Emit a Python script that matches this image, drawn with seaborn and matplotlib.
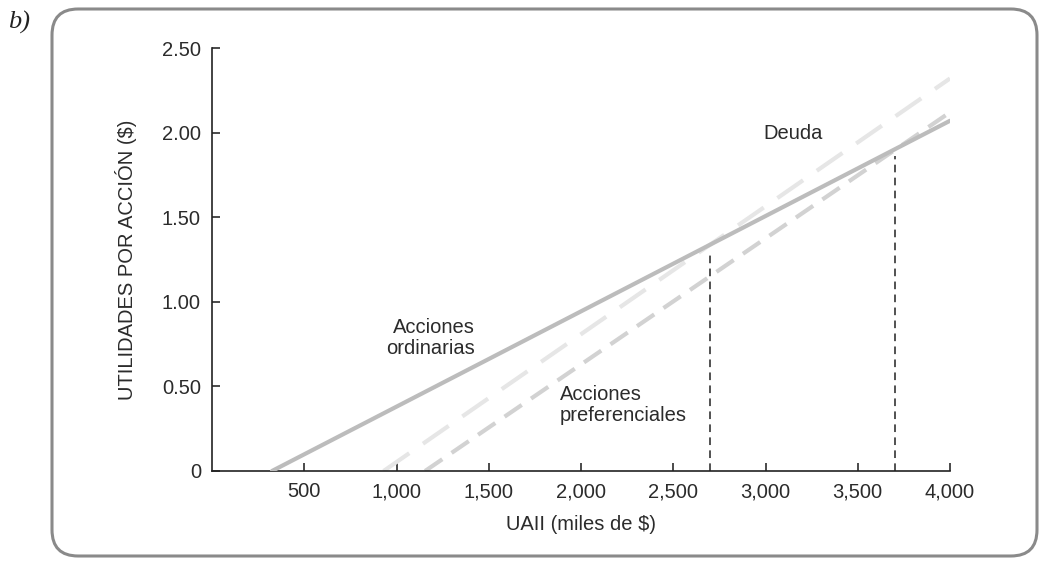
import pandas as pd
import seaborn as sns
import matplotlib.pyplot as plt
from matplotlib.patches import FancyBboxPatch
from matplotlib.ticker import FuncFormatter

# valores (UAII en miles de $, UPA en $)
ebit_ordinarias = [325, 4000]
eps_ordinarias = [0.0, 2.07]
ebit_deuda = [930, 4000]
eps_deuda = [0.0, 2.32]
ebit_pref = [1155, 4000]
eps_pref = [0.0, 2.12]

# puntos de indiferencia
indif_x = [2700, 3700]
indif_y = [1.30, 1.86]

x_ticks = [500, 1000, 1500, 2000, 2500, 3000, 3500, 4000]
y_ticks = [0, 0.5, 1.0, 1.5, 2.0, 2.5]

sns.set_style("ticks")
plt.rcParams.update({
    "font.family": ["Liberation Sans", "DejaVu Sans"],
    "font.size": 14.5,
    "text.color": "#2b2b2b",
    "axes.labelcolor": "#2b2b2b",
    "xtick.color": "#2b2b2b",
    "ytick.color": "#2b2b2b",
})

df_ord = pd.DataFrame({"UAII": ebit_ordinarias, "UPA": eps_ordinarias})
df_deu = pd.DataFrame({"UAII": ebit_deuda, "UPA": eps_deuda})
df_pre = pd.DataFrame({"UAII": ebit_pref, "UPA": eps_pref})

fig = plt.figure(figsize=(10.45, 5.61), dpi=100)
ax = fig.add_axes([212 / 1045, 1 - 471 / 561, (950 - 212) / 1045, (471 - 48) / 561])

# marco redondeado
box = FancyBboxPatch((52 / 1045, 5 / 561), (1037 - 52) / 1045, (554 - 7) / 561,
                     boxstyle="round,pad=0,rounding_size=0.025",
                     transform=fig.transFigure, fill=False,
                     edgecolor="#8a8a8a", linewidth=2.2,
                     mutation_aspect=1045 / 561)
fig.patches.append(box)
fig.text(8 / 1045, 1 - 22 / 561, "b)", fontsize=19, style="italic",
         family="Liberation Serif", va="center", ha="left", color="#222222")

sns.lineplot(data=df_deu, x="UAII", y="UPA", ax=ax, color="#e6e6e6",
             linewidth=3.0, zorder=2).lines[-1].set_dashes([7.5, 4])
sns.lineplot(data=df_pre, x="UAII", y="UPA", ax=ax, color="#d2d2d2",
             linewidth=3.0, zorder=2).lines[-1].set_dashes([5, 2.7])
sns.lineplot(data=df_ord, x="UAII", y="UPA", ax=ax, color="#bcbcbc",
             linewidth=3.0, zorder=3)

ax.vlines(indif_x, 0, indif_y, colors="#222222", linewidth=1.1,
          linestyles=(0, (5, 3.5)), zorder=4)

ax.text(1425, 0.785, "Acciones\nordinarias", ha="right", va="center",
        linespacing=1.1)
ax.text(1885, 0.39, "Acciones\npreferenciales", ha="left", va="center",
        linespacing=1.1)
ax.text(3150, 1.995, "Deuda", ha="center", va="center")

ax.set_xlim(0, 4000)
ax.set_ylim(0, 2.5)
ax.set_xticks(x_ticks)
ax.set_yticks(y_ticks)
ax.xaxis.set_major_formatter(FuncFormatter(lambda v, p: f"{int(v):,}"))
ax.yaxis.set_major_formatter(FuncFormatter(lambda v, p: "0" if v == 0 else f"{v:.2f}"))
ax.tick_params(direction="in", length=6, width=1.2, pad=8, labelsize=14.5)
for s in ["top", "right"]:
    ax.spines[s].set_visible(False)
for s in ["left", "bottom"]:
    ax.spines[s].set_linewidth(1.2)
    ax.spines[s].set_color("#222222")

ax.set_xlabel("UAII (miles de $)", labelpad=10)
ax.set_ylabel("UTILIDADES POR ACCIÓN ($)", labelpad=18)

plt.savefig("out.png", dpi=100)
